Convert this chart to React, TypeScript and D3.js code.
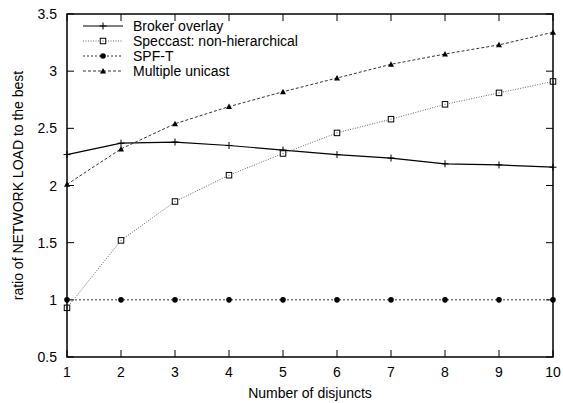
import React, { useEffect, useRef } from 'react';
import * as d3 from 'd3';

const disjuncts = [1, 2, 3, 4, 5, 6, 7, 8, 9, 10];
const brokerOverlay = [2.27, 2.37, 2.38, 2.35, 2.31, 2.27, 2.24, 2.19, 2.18, 2.16];
const speccast = [0.93, 1.52, 1.86, 2.09, 2.28, 2.46, 2.58, 2.71, 2.81, 2.91];
const spfT = [1, 1, 1, 1, 1, 1, 1, 1, 1, 1];
const multipleUnicast = [2.01, 2.32, 2.54, 2.69, 2.82, 2.94, 3.06, 3.15, 3.23, 3.34];
const yTicks = [0.5, 1, 1.5, 2, 2.5, 3, 3.5];
const seriesNames = ['Broker overlay', 'Speccast: non-hierarchical', 'SPF-T', 'Multiple unicast'];

export default function App() {
  const ref = useRef<SVGSVGElement>(null);

  useEffect(() => {
    const width = 563;
    const height = 403;
    const margin = { top: 14, right: 10, bottom: 46, left: 67 };
    const font = 'Liberation Sans, Arial, sans-serif';

    const svg = d3.select(ref.current);
    svg.selectAll('*').remove();
    svg.attr('width', width).attr('height', height);

    const x = d3.scaleLinear().domain([1, 10]).range([margin.left, width - margin.right]);
    const y = d3.scaleLinear().domain([0.5, 3.5]).range([height - margin.bottom, margin.top]);

    const [x0, x1] = x.range();
    const [y0, y1] = y.range();

    // ticks, inward on all four sides
    const ticks = svg.append('g').attr('stroke', '#000').attr('stroke-width', 1);
    const tl = 7;
    disjuncts.forEach(d => {
      ticks.append('line').attr('x1', x(d)).attr('x2', x(d)).attr('y1', y0).attr('y2', y0 - tl);
      ticks.append('line').attr('x1', x(d)).attr('x2', x(d)).attr('y1', y1).attr('y2', y1 + tl);
    });
    yTicks.forEach(v => {
      ticks.append('line').attr('x1', x0).attr('x2', x0 + tl).attr('y1', y(v)).attr('y2', y(v));
      ticks.append('line').attr('x1', x1).attr('x2', x1 - tl).attr('y1', y(v)).attr('y2', y(v));
    });

    const labels = svg.append('g').attr('font-family', font).attr('font-size', 14).attr('fill', '#000');
    disjuncts.forEach(d => {
      labels.append('text').attr('x', x(d)).attr('y', y0 + 20).attr('text-anchor', 'middle').text(d);
    });
    yTicks.forEach(v => {
      labels.append('text').attr('x', x0 - 10).attr('y', y(v) + 5).attr('text-anchor', 'end').text(v);
    });
    labels.append('text')
      .attr('x', (x0 + x1) / 2).attr('y', 398).attr('text-anchor', 'middle')
      .text('Number of disjuncts');
    labels.append('text')
      .attr('transform', `translate(23, ${(y0 + y1) / 2}) rotate(-90)`)
      .attr('text-anchor', 'middle')
      .text('ratio of NETWORK LOAD to the best');

    const series = [
      { name: seriesNames[0], values: brokerOverlay, color: '#000', dash: null, width: 1.2, marker: 'plus' },
      { name: seriesNames[1], values: speccast, color: '#666', dash: '1,1.5', width: 1, marker: 'square' },
      { name: seriesNames[2], values: spfT, color: '#333', dash: '2,2', width: 1, marker: 'circle' },
      { name: seriesNames[3], values: multipleUnicast, color: '#333', dash: '3,2', width: 1, marker: 'triangle' },
    ];

    const drawMarker = (g: any, kind: string, cx: number, cy: number) => {
      if (kind === 'plus') {
        g.append('path').attr('d', `M${cx - 3.5},${cy}H${cx + 3.5}M${cx},${cy - 3.5}V${cy + 3.5}`)
          .attr('stroke', '#000').attr('stroke-width', 1).attr('fill', 'none');
      } else if (kind === 'square') {
        g.append('rect').attr('x', cx - 2.75).attr('y', cy - 2.75).attr('width', 5.5).attr('height', 5.5)
          .attr('fill', '#fff').attr('stroke', '#000').attr('stroke-width', 1);
        g.append('rect').attr('x', cx - 0.5).attr('y', cy - 0.5).attr('width', 1).attr('height', 1).attr('fill', '#555');
      } else if (kind === 'circle') {
        g.append('circle').attr('cx', cx).attr('cy', cy).attr('r', 2.8).attr('fill', '#000');
      } else {
        g.append('path').attr('d', `M${cx},${cy - 3}L${cx + 3},${cy + 2.5}L${cx - 3},${cy + 2.5}Z`).attr('fill', '#000');
      }
    };

    const line = d3.line<number>().x((_, i) => x(disjuncts[i])).y(d => y(d));

    series.forEach(s => {
      svg.append('path')
        .attr('d', line(s.values))
        .attr('fill', 'none')
        .attr('stroke', s.color)
        .attr('stroke-width', s.width)
        .attr('stroke-dasharray', s.dash);
      const g = svg.append('g');
      s.values.forEach((v, i) => drawMarker(g, s.marker, x(disjuncts[i]), y(v)));
    });

    // legend
    const legend = svg.append('g');
    series.forEach((s, i) => {
      const ly = 26 + i * 15;
      legend.append('line').attr('x1', 83).attr('x2', 123).attr('y1', ly).attr('y2', ly)
        .attr('stroke', s.color).attr('stroke-width', s.width).attr('stroke-dasharray', s.dash);
      drawMarker(legend, s.marker, 103, ly);
      legend.append('text').attr('x', 133).attr('y', ly + 5)
        .attr('font-family', font).attr('font-size', 14).text(s.name);
    });

    // frame
    svg.append('rect')
      .attr('x', x0).attr('y', y1).attr('width', x1 - x0).attr('height', y0 - y1)
      .attr('fill', 'none').attr('stroke', '#000').attr('stroke-width', 1.5);
  }, []);

  return <svg ref={ref} style={{ position: 'absolute', left: 0, top: 0, background: '#fff' }} />;
}
